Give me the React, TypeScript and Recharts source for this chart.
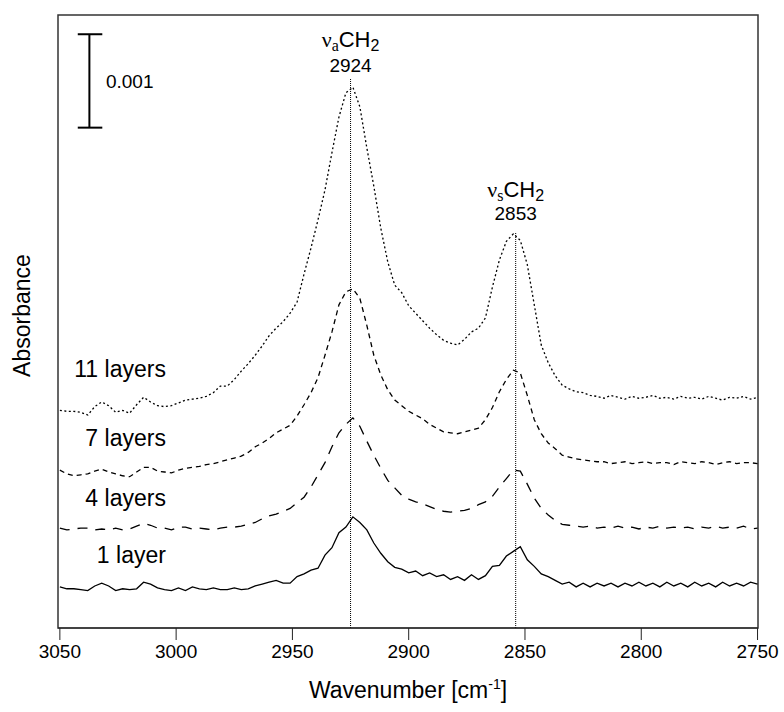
import { ComposedChart, Line, XAxis, YAxis, ReferenceLine, ReferenceArea, ReferenceDot } from 'recharts';

const FONT = '"Liberation Sans", Arial, Helvetica, sans-serif';

// wavenumber grid (cm-1), read every 3 cm-1 from 3050 down to 2750
const wavenumbers = [
    3050, 3047, 3044, 3041, 3038, 3035, 3032, 3029, 3026, 3023,
    3020, 3017, 3014, 3011, 3008, 3005, 3002, 2999, 2996, 2993,
    2990, 2987, 2984, 2981, 2978, 2975, 2972, 2969, 2966, 2963,
    2960, 2957, 2954, 2951, 2948, 2945, 2942, 2939, 2936, 2933,
    2930, 2927, 2924, 2921, 2918, 2915, 2912, 2909, 2906, 2903,
    2900, 2897, 2894, 2891, 2888, 2885, 2882, 2879, 2876, 2873,
    2870, 2867, 2864, 2861, 2858, 2855, 2852, 2849, 2846, 2843,
    2840, 2837, 2834, 2831, 2828, 2825, 2822, 2819, 2816, 2813,
    2810, 2807, 2804, 2801, 2798, 2795, 2792, 2789, 2786, 2783,
    2780, 2777, 2774, 2771, 2768, 2765, 2762, 2759, 2756, 2753,
    2750,
];

// absorbance in units of 0.001 (traces are offset vertically)
const layer1 = [
    0.44, 0.42, 0.42, 0.41, 0.40, 0.45, 0.48, 0.45, 0.40, 0.42,
    0.41, 0.42, 0.49, 0.47, 0.43, 0.41, 0.40, 0.43, 0.40, 0.44,
    0.42, 0.41, 0.43, 0.41, 0.41, 0.43, 0.41, 0.42, 0.45, 0.47,
    0.49, 0.51, 0.48, 0.48, 0.55, 0.58, 0.62, 0.64, 0.78, 0.86,
    1.02, 1.08, 1.19, 1.13, 1.05, 0.91, 0.80, 0.71, 0.65, 0.63,
    0.59, 0.61, 0.56, 0.59, 0.55, 0.57, 0.52, 0.55, 0.51, 0.57,
    0.52, 0.56, 0.66, 0.67, 0.77, 0.82, 0.87, 0.73, 0.66, 0.58,
    0.55, 0.51, 0.47, 0.49, 0.44, 0.48, 0.44, 0.48, 0.45, 0.48,
    0.44, 0.48, 0.45, 0.49, 0.45, 0.48, 0.44, 0.49, 0.45, 0.48,
    0.44, 0.49, 0.45, 0.48, 0.44, 0.49, 0.45, 0.48, 0.45, 0.49,
    0.47,
];

const layer4 = [
    1.07, 1.05, 1.06, 1.07, 1.07, 1.05, 1.06, 1.05, 1.07, 1.05,
    1.06, 1.09, 1.12, 1.10, 1.07, 1.07, 1.05, 1.08, 1.08, 1.06,
    1.07, 1.06, 1.05, 1.07, 1.08, 1.08, 1.09, 1.11, 1.13, 1.17,
    1.20, 1.22, 1.25, 1.28, 1.34, 1.40, 1.51, 1.64, 1.77, 1.94,
    2.09, 2.18, 2.25, 2.16, 2.00, 1.85, 1.71, 1.58, 1.50, 1.42,
    1.38, 1.35, 1.33, 1.30, 1.27, 1.25, 1.24, 1.25, 1.26, 1.28,
    1.32, 1.35, 1.41, 1.51, 1.60, 1.69, 1.68, 1.54, 1.39, 1.28,
    1.21, 1.15, 1.11, 1.10, 1.09, 1.08, 1.09, 1.07, 1.08, 1.07,
    1.09, 1.07, 1.08, 1.06, 1.08, 1.07, 1.09, 1.07, 1.08, 1.07,
    1.08, 1.06, 1.08, 1.07, 1.09, 1.07, 1.08, 1.07, 1.09, 1.06,
    1.07,
];

const layer7 = [
    1.69, 1.65, 1.63, 1.64, 1.65, 1.68, 1.70, 1.67, 1.65, 1.63,
    1.62, 1.67, 1.72, 1.72, 1.68, 1.67, 1.66, 1.69, 1.71, 1.72,
    1.73, 1.75, 1.76, 1.78, 1.80, 1.82, 1.84, 1.88, 1.94, 1.98,
    2.03, 2.09, 2.13, 2.17, 2.27, 2.39, 2.52, 2.68, 2.92, 3.17,
    3.46, 3.60, 3.63, 3.53, 3.24, 2.92, 2.71, 2.55, 2.44, 2.38,
    2.32, 2.28, 2.24, 2.18, 2.14, 2.10, 2.09, 2.08, 2.10, 2.12,
    2.14, 2.23, 2.36, 2.53, 2.66, 2.76, 2.73, 2.49, 2.23, 2.08,
    1.98, 1.92, 1.85, 1.83, 1.81, 1.80, 1.79, 1.78, 1.78, 1.76,
    1.77, 1.78, 1.76, 1.77, 1.78, 1.76, 1.77, 1.77, 1.75, 1.78,
    1.77, 1.76, 1.78, 1.77, 1.75, 1.77, 1.78, 1.76, 1.77, 1.77,
    1.76,
];

const layer11 = [
    2.33, 2.32, 2.32, 2.31, 2.28, 2.37, 2.42, 2.38, 2.31, 2.33,
    2.30, 2.39, 2.47, 2.42, 2.38, 2.37, 2.38, 2.41, 2.44, 2.45,
    2.46, 2.48, 2.52, 2.59, 2.59, 2.66, 2.75, 2.83, 2.92, 3.02,
    3.13, 3.21, 3.28, 3.37, 3.49, 3.79, 4.07, 4.37, 4.69, 5.09,
    5.47, 5.73, 5.79, 5.58, 5.14, 4.73, 4.28, 3.92, 3.67, 3.59,
    3.45, 3.37, 3.29, 3.21, 3.14, 3.08, 3.05, 3.03, 3.09, 3.17,
    3.21, 3.32, 3.65, 3.94, 4.14, 4.22, 4.15, 3.89, 3.46, 3.03,
    2.84, 2.70, 2.60, 2.56, 2.53, 2.52, 2.49, 2.48, 2.46, 2.49,
    2.47, 2.45, 2.48, 2.46, 2.47, 2.49, 2.46, 2.47, 2.45, 2.48,
    2.46, 2.47, 2.45, 2.48, 2.46, 2.44, 2.47, 2.46, 2.48, 2.45,
    2.47,
];

const xTicks = [3050, 3000, 2950, 2900, 2850, 2800, 2750];
const X_DOMAIN = [2749.8, 3050.8];
const Y_DOMAIN = [0, 6.563];

// series: data key, dash pattern
const series = [
    { key: 'l11', dash: '2 2.5' },
    { key: 'l7', dash: '5 4' },
    { key: 'l4', dash: '10 8' },
    { key: 'l1', dash: undefined },
];

// trace labels (right aligned) at wavenumber / absorbance
const traceLabels = [
    { text: '11 layers', wn: 3004.4, y: 2.69 },
    { text: '7 layers', wn: 3004.4, y: 1.95 },
    { text: '4 layers', wn: 3004.4, y: 1.31 },
    { text: '1 layer', wn: 3004.4, y: 0.70 },
];

// band assignments: marker line position, top of marker, label heights
const bands = [
    { mode: 'a', label: '2924', wn: 2925, top: 5.878, nameY: 6.224, numY: 5.956 },
    { mode: 's', label: '2853', wn: 2854, top: 4.24, nameY: 4.611, numY: 4.368 },
];

// 0.001 scale bar
const scaleBar = { wn: 3037.3, capFrom: 3042.3, capTo: 3031.75, low: 5.357, high: 6.357, labelWn: 3030.2, labelY: 5.78 };

const data = wavenumbers.map((wn, i) => ({
    wn,
    l1: layer1[i],
    l4: layer4[i],
    l7: layer7[i],
    l11: layer11[i],
}));

const renderYLabel = (props: any) => {
    const { x, y, height } = props.viewBox;
    const cx = x + 14;
    const cy = y + height / 2 - 6;
    return (
        <text x={cx} y={cy} transform={`rotate(-90 ${cx} ${cy})`} textAnchor="middle" dominantBaseline="central"
            fontSize={23} fill="#000" fontFamily={FONT}>Absorbance</text>
    );
};

const renderXLabel = (props: any) => {
    const { x, y, width } = props.viewBox;
    return (
        <text x={x + width / 2} y={y + 70} textAnchor="middle" fontSize={23} fill="#000" fontFamily={FONT}>
            <tspan>Wavenumber [cm</tspan>
            <tspan fontSize={14} dy={-9}>-1</tspan>
            <tspan dy={9}>]</tspan>
        </text>
    );
};

export default function App() {
    return (
        // absolute so the body's bottom margin does not add a scrollbar
        <div style={{ position: 'absolute', left: 8, top: 8, width: 776, height: 704, fontFamily: FONT }}>
            <ComposedChart width={776} height={704} data={data} margin={{ top: 7, right: 26, left: 0, bottom: 24 }}>
                <XAxis
                    dataKey="wn"
                    type="number"
                    domain={X_DOMAIN}
                    reversed
                    allowDataOverflow
                    ticks={xTicks}
                    height={60}
                    tickSize={12}
                    tickMargin={5}
                    stroke="#222"
                    tick={{ fontSize: 19, fill: '#000', fontFamily: FONT }}
                    label={{ content: renderXLabel }}
                />
                <YAxis
                    type="number"
                    domain={Y_DOMAIN}
                    allowDataOverflow
                    width={50}
                    tick={false}
                    tickLine={false}
                    axisLine={false}
                    label={{ content: renderYLabel }}
                />

                {/* plot frame */}
                <ReferenceArea x1={X_DOMAIN[0]} x2={X_DOMAIN[1]} y1={Y_DOMAIN[0]} y2={Y_DOMAIN[1]}
                    fill="none" stroke="#333" strokeWidth={1.5} />

                {/* band markers */}
                {bands.map(b => (
                    <ReferenceLine key={'m' + b.label} segment={[{ x: b.wn, y: 0 }, { x: b.wn, y: b.top }]}
                        stroke="#000" strokeWidth={1} strokeDasharray="1 1" />
                ))}

                {series.map(s => (
                    <Line key={s.key} dataKey={s.key} type="linear" stroke="#000" strokeWidth={1.3}
                        strokeDasharray={s.dash} dot={false} activeDot={false} isAnimationActive={false} />
                ))}

                {/* scale bar */}
                <ReferenceLine segment={[{ x: scaleBar.wn, y: scaleBar.low }, { x: scaleBar.wn, y: scaleBar.high }]} stroke="#000" strokeWidth={2} />
                <ReferenceLine segment={[{ x: scaleBar.capFrom, y: scaleBar.low }, { x: scaleBar.capTo, y: scaleBar.low }]} stroke="#000" strokeWidth={2} />
                <ReferenceLine segment={[{ x: scaleBar.capFrom, y: scaleBar.high }, { x: scaleBar.capTo, y: scaleBar.high }]} stroke="#000" strokeWidth={2} />
                <ReferenceDot x={scaleBar.labelWn} y={scaleBar.labelY} r={0}
                    shape={(p: any) => <text x={p.cx} y={p.cy} fontSize={19} fill="#000" fontFamily={FONT}>0.001</text>} />

                {traceLabels.map(t => (
                    <ReferenceDot key={t.text} x={t.wn} y={t.y} r={0}
                        shape={(p: any) => <text x={p.cx} y={p.cy} textAnchor="end" fontSize={23} fill="#000" fontFamily={FONT}>{t.text}</text>} />
                ))}

                {bands.map(b => (
                    <ReferenceDot key={'n' + b.label} x={b.wn} y={b.nameY} r={0}
                        shape={(p: any) => (
                            <text x={p.cx} y={p.cy} textAnchor="middle" fontSize={22} fill="#000" fontFamily={FONT}>
                                <tspan fontFamily='"Liberation Serif", serif'>ν</tspan>
                                <tspan fontSize={16} dy={4} fontFamily='"Liberation Serif", serif'>{b.mode}</tspan>
                                <tspan dy={-4}>CH</tspan>
                                <tspan fontSize={16} dy={4}>2</tspan>
                            </text>
                        )} />
                ))}
                {bands.map(b => (
                    <ReferenceDot key={'v' + b.label} x={b.wn} y={b.numY} r={0}
                        shape={(p: any) => <text x={p.cx} y={p.cy} textAnchor="middle" fontSize={19} fill="#000" fontFamily={FONT}>{b.label}</text>} />
                ))}
            </ComposedChart>
        </div>
    );
}
